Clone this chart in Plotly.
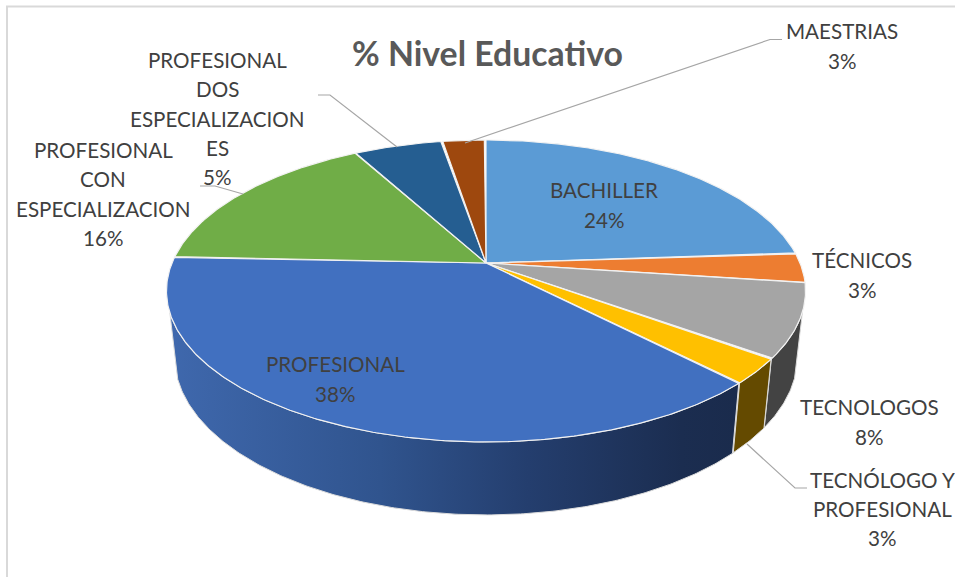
import numpy as np
import plotly.graph_objects as go

# --- data ---
names = ["BACHILLER", "TÉCNICOS", "TECNOLOGOS", "TECNÓLOGO Y<br>PROFESIONAL", "PROFESIONAL",
         "PROFESIONAL<br>CON<br>ESPECIALIZACION", "PROFESIONAL<br>DOS<br>ESPECIALIZACION<br>ES", "MAESTRIAS"]
values = [24.0, 3.1, 7.9, 2.7, 38.0, 16.3, 5.4, 2.6]
title_text = "% Nivel Educativo"

# --- style ---
top_colors = ["#5b9bd5", "#ed7d31", "#a5a5a5", "#ffc000", "#4170c0", "#70ad47", "#255e91", "#9e480e"]
wall_colors = [None, "#8a4a1d", "#434343", "#644a00", None, None, None, None]
blue_wall_scale = [[0, "#3f68ad"], [0.37, "#30548e"], [0.63, "#243e6e"], [0.9, "#1b2d50"], [1, "#1a2b4c"]]
label_pos = [(604, 205), (862, 275), (869, 422), (882, 509), (335, 379), (103, 194), (217, 118.5), (842, 46)]
FONT = "Lato"
TXT = "#404040"
FS = 20.6
LINE = 29.3

# --- tilted disc geometry ---
CX, CY, A, B, K = 486.0, 263.0, 145.8, 314.0, 0.1854
SCALE_X, SCALE_Y, DROP = 0.975, 1.05, 64.0
WALL_FROM, WALL_TO = 108.4, 251.6


def rim(deg):
    t = np.radians(deg)
    s, c = np.cos(t), np.sin(t)
    w = 1 + K * s
    return CX + B * c / w, CY - A * s / w


def lower(deg):
    x, y = rim(deg)
    return CX + SCALE_X * (x - CX), CY + SCALE_Y * (y - CY) + DROP


fig = go.Figure()
cum = np.cumsum([0] + values) / sum(values) * 360

# side walls (only the near half of the disc shows them)
for i, col in enumerate(wall_colors):
    a0, a1 = max(cum[i], WALL_FROM), min(cum[i + 1], WALL_TO)
    if a1 <= a0:
        continue
    th = np.arange(a0, a1 + 0.01, 0.5)
    xu, yu = rim(th)
    xl, yl = lower(th[::-1])
    x = np.r_[xu, xl, xu[0]]
    y = np.r_[yu, yl, yu[0]]
    kw = dict(fillcolor=col) if col else dict(fillgradient=dict(type="horizontal", colorscale=blue_wall_scale))
    fig.add_trace(go.Scatter(x=x, y=y, mode="lines", fill="toself", line=dict(color="#dcdcdc", width=1),
                             hoverinfo="skip", showlegend=False, **kw))

# top face
for i, col in enumerate(top_colors):
    th = np.arange(cum[i], cum[i + 1] + 0.01, 0.5)
    xu, yu = rim(th)
    x = np.r_[CX, xu, CX]
    y = np.r_[CY, yu, CY]
    fig.add_trace(go.Scatter(x=x, y=y, mode="lines", fill="toself", fillcolor=col,
                             line=dict(color="#f2f2f2", width=1.2), hoverinfo="skip", showlegend=False))

annotations = [dict(x=487, y=53, text=f"<b>{title_text}</b>", showarrow=False, xref="x", yref="y",
                    font=dict(family=FONT, size=33.8, color="#595959"))]
for n, v, (lx, ly) in zip(names, values, label_pos):
    lines = n.split("<br>") + [f"{round(v)}%"]
    for j, txt in enumerate(lines):
        annotations.append(dict(x=lx, y=ly + (j - (len(lines) - 1) / 2) * LINE, text=txt, showarrow=False,
                                xref="x", yref="y", font=dict(family=FONT, size=FS, color=TXT)))

leaders = ["M 782 39.5 L 770 39.5 L 465 143", "M 318 95 L 330 95 L 397 147",
           "M 200 186 L 215 186 L 243 194", "M 807 488 L 795 488 L 747 444"]
shapes = [dict(type="path", path=p, line=dict(color="#a6a6a6", width=1.2), xref="x", yref="y") for p in leaders]
shapes.append(dict(type="path", path="M 7 577 L 7 6.5 L 955 6.5", line=dict(color="#d9d9d9", width=2), xref="x", yref="y"))

fig.update_layout(
    width=955, height=577, autosize=False, margin=dict(l=0, r=0, t=0, b=0),
    paper_bgcolor="white", plot_bgcolor="white", showlegend=False,
    xaxis=dict(range=[0, 955], visible=False, fixedrange=True),
    yaxis=dict(range=[577, 0], visible=False, fixedrange=True),
    annotations=annotations, shapes=shapes,
)
fig.write_html("out.html", config={"displayModeBar": False},
               post_script="document.body.style.margin='0';document.body.style.overflow='hidden';"
                           "document.body.style.fontVariantLigatures='none';")
